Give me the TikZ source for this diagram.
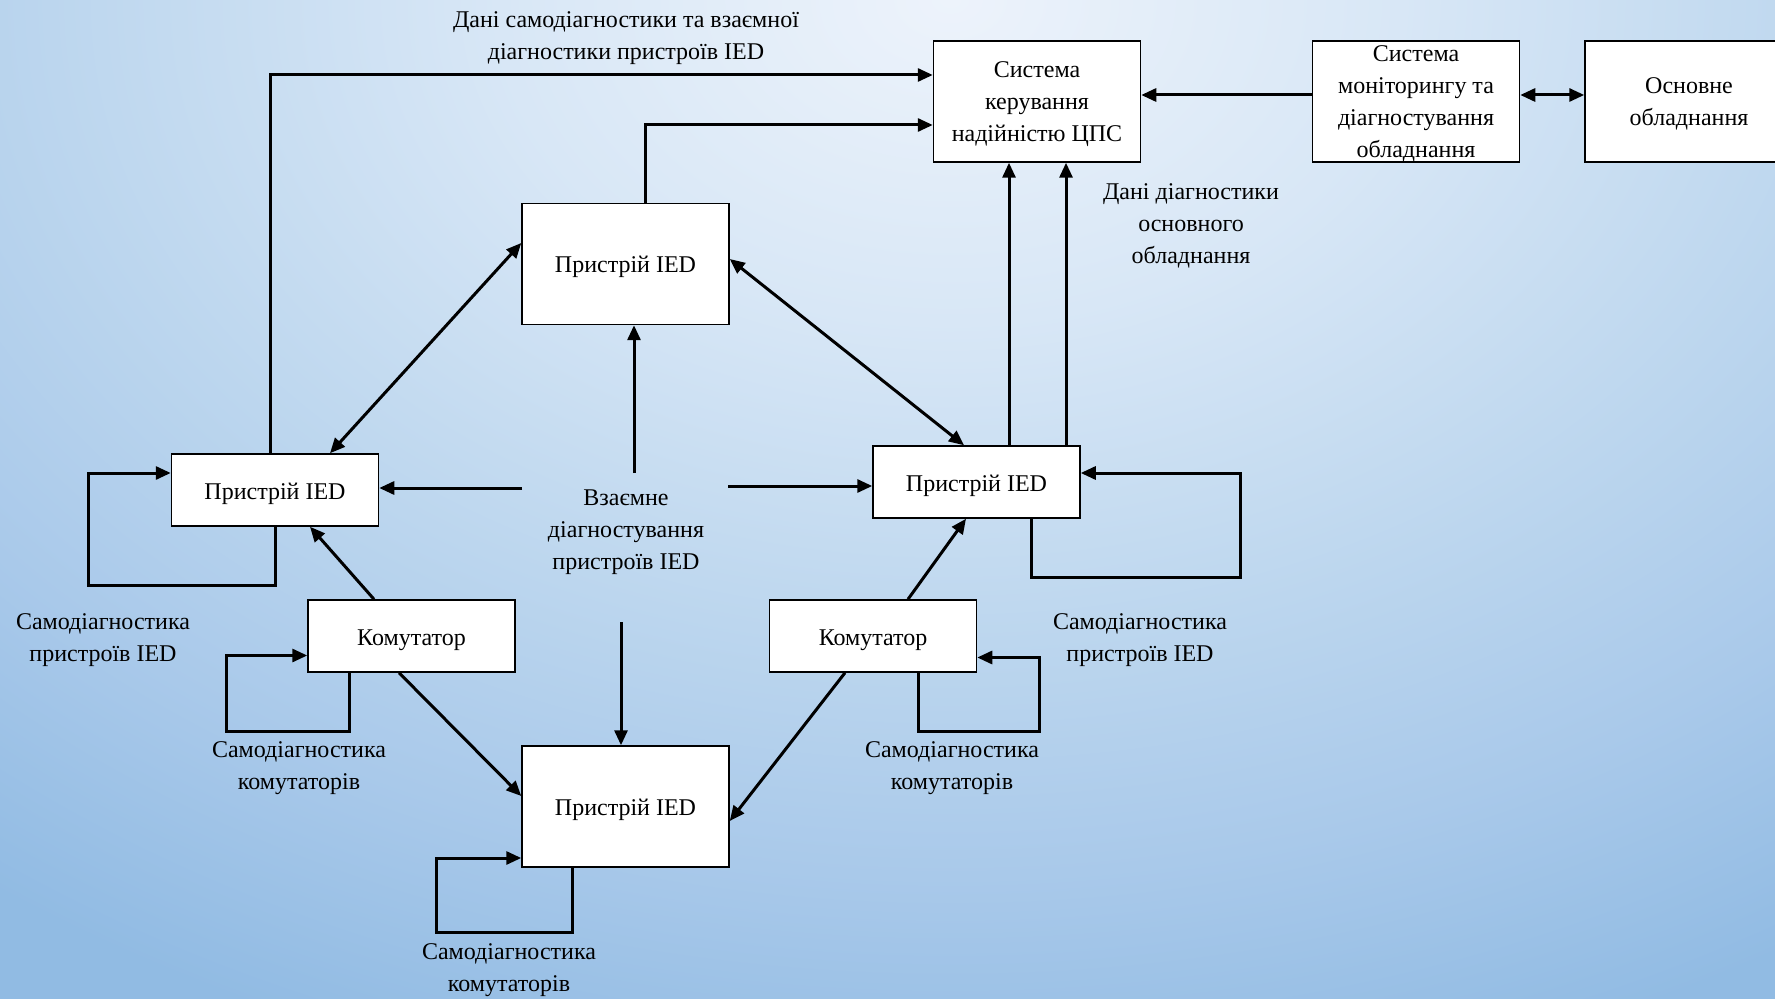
\documentclass[tikz,border=0pt]{standalone}
\usepackage{fontspec}
\setmainfont{Liberation Serif}
\usetikzlibrary{arrows.meta}
\definecolor{bgA}{HTML}{EDF3FB}
\definecolor{bgB}{HTML}{D8E7F6}
\definecolor{bgC}{HTML}{BCD6EE}
\definecolor{bgD}{HTML}{A9C9EA}
\definecolor{bgE}{HTML}{91BBE3}
\pgfdeclareradialshading{bgshade}{\pgfpoint{0bp}{0bp}}{color(0bp)=(bgA); color(4.33bp)=(bgB); color(8.65bp)=(bgC); color(11.8bp)=(bgD); color(15.1bp)=(bgE); color(50bp)=(bgE)}
\newcommand{\firststrut}{\rule{0pt}{11.5pt}}
\begin{document}
\begin{tikzpicture}[x=0.5pt,y=-0.5pt,
  txt/.style={align=center, inner sep=0pt, font=\fontsize{12}{16}\selectfont,
    execute at begin node={\rule{0pt}{12pt}},
    execute at end node={\rule[-3pt]{0pt}{3pt}}},
  box/.style={txt, draw=black, line width=0.75pt, fill=white, minimum width=103.5pt},
  bigbox/.style={box, minimum height=60.5pt},
  smallbox/.style={box, minimum height=36pt},
  arr/.style={line width=1.5pt, -{Triangle[length=7.5pt,width=6.5pt]}},
  darr/.style={line width=1.5pt, {Triangle[length=7.5pt,width=6.5pt]}-{Triangle[length=7.5pt,width=6.5pt]}}]
\useasboundingbox (0,0) rectangle (1775,999);
\begin{scope}
\clip (0,0) rectangle (1775,999);
\shade[shading=bgshade] (950,0) ellipse [x radius=2600, y radius=1857];

% boxes
\node[bigbox] (sys) at (1037,101.5) {\firststrut Система\\керування\\надійністю ЦПС};
\node[bigbox, inner ysep=-2pt] (mon) at (1416,101.5) {\firststrut Система\\моніторингу та\\діагностування\\обладнання};
\node[bigbox, minimum width=104pt] (equip) at (1689,101.5) {\firststrut Основне\\обладнання};
\node[bigbox] (topIED) at (625.5,264) {Пристрій IED};
\node[bigbox] (botIED) at (625.5,806.5) {Пристрій IED};
\node[smallbox] (leftIED) at (275,490) {Пристрій IED};
\node[smallbox] (rightIED) at (976.5,482) {Пристрій IED};
\node[smallbox] (komL) at (411.5,636) {Комутатор};
\node[smallbox] (komR) at (873,636) {Комутатор};

% labels
\node[txt] (lblTop) at (626,38.8) {Дані самодіагностики та взаємної\\діагностики пристроїв IED};
\node[txt] (lblDiag) at (1191,226.4) {Дані діагностики\\основного\\обладнання};
\node[txt] (lblMut) at (626,533) {Взаємне\\діагностування\\пристроїв IED};
\node[txt] (lblSelfL) at (103,640.4) {Самодіагностика\\пристроїв IED};
\node[txt] (lblSelfR) at (1140,640.4) {Самодіагностика\\пристроїв IED};
\node[txt] (lblKomL) at (299,768.3) {Самодіагностика\\комутаторів};
\node[txt] (lblKomR) at (952,768.3) {Самодіагностика\\комутаторів};
\node[txt] (lblKomB) at (509,970.7) {Самодіагностика\\комутаторів};

% free ends near the mutual-diagnostics label
\coordinate (mU) at (634,473);
\coordinate (mL) at (522,488);
\coordinate (mR) at (728,486);
\coordinate (mD) at (621,622);
\coordinate (r1) at ([xshift=16.25pt]rightIED.north);
\coordinate (r2) at ([xshift=44.75pt]rightIED.north);

% connectors to control system
\draw[arr] ([xshift=-2.5pt]leftIED.north) |- ([yshift=13.25pt]sys.west);
\draw[arr] ([xshift=9.75pt]topIED.north) |- ([yshift=-11.75pt]sys.west);
\draw[arr] ([yshift=3.25pt]mon.west) -- ([yshift=3.25pt]sys.east);
\draw[darr] ([yshift=3.25pt]mon.east) -- ([yshift=3.25pt]equip.west);
\draw[arr] (r1) -- (r1 |- sys.south);
\draw[arr] (r2) -- (r2 |- sys.south);

% mutual diagnostics
\draw[darr] ([xshift=27.5pt]leftIED.north) -- ([yshift=10.5pt]topIED.west);
\draw[darr] ([yshift=2.5pt]topIED.east) -- ([xshift=-6.25pt]rightIED.north);
\draw[arr] (mU) -- (mU |- topIED.south);
\draw[arr] (mL) -- (mL -| leftIED.east);
\draw[arr] (mR) -- (mR -| rightIED.west);
\draw[arr] (mD) -- (mD |- botIED.north);

% switches
\draw[arr] ([xshift=-18.75pt]komL.north) -- ([xshift=17.5pt]leftIED.south);
\draw[arr] ([xshift=-6.25pt]komL.south) -- ([yshift=5.25pt]botIED.west);
\draw[arr] ([xshift=-14pt]komR.south) -- ([yshift=-7.25pt]botIED.east);
\draw[arr] ([xshift=17.5pt]komR.north) -- ([xshift=-5.25pt]rightIED.south);

% self-diagnostic loops
\draw[arr] (leftIED.south) -- ++(0,59) -- ++(-187,0) |- ([yshift=8.5pt]leftIED.west);
\draw[arr] ([xshift=-31.25pt]komL.south) -- ++(0,59) -- ++(-123,0) |- ([yshift=-9.75pt]komL.west);
\draw[arr] ([xshift=-26.75pt]botIED.south) -- ++(0,65) -- ++(-136,0) |- ([yshift=-25.75pt]botIED.west);
\draw[arr] ([xshift=22.5pt]komR.south) -- ++(0,59) -- ++(121,0) |- ([yshift=-10.75pt]komR.east);
\draw[arr] ([xshift=27.25pt]rightIED.south) -- ++(0,59) -- ++(209,0) |- ([yshift=4.5pt]rightIED.east);
\end{scope}
\end{tikzpicture}
\end{document}
